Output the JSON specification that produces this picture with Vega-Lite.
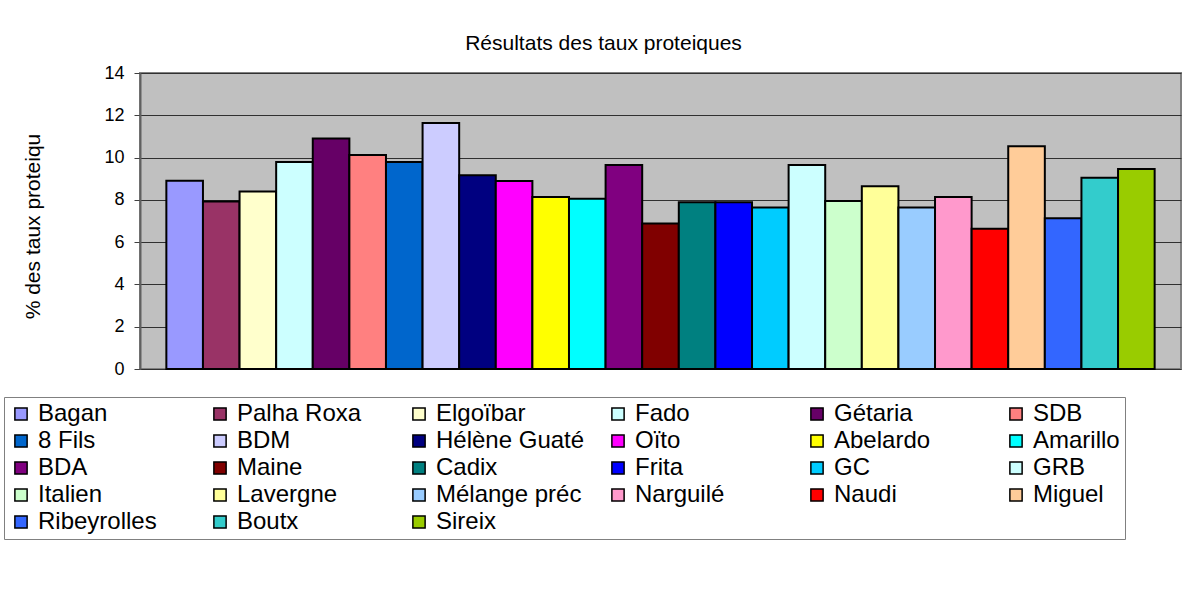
{
  "$schema": "https://vega.github.io/schema/vega-lite/v6.json",
  "autosize": {"type": "none"},
  "width": 1041,
  "height": 296,
  "padding": {"left": 140, "top": 73, "right": 7, "bottom": 224},
  "background": "white",
  "title": {
    "text": "Résultats des taux proteiques",
    "fontSize": 21,
    "font": "Liberation Sans",
    "fontWeight": "normal",
    "color": "black",
    "anchor": "middle",
    "dx": -57,
    "dy": 29,
    "offset": 22,
    "baseline": "alphabetic"
  },
  "data": {
    "values": [
      {"variete": "Bagan", "taux": 8.9},
      {"variete": "Palha Roxa", "taux": 7.92},
      {"variete": "Elgoïbar", "taux": 8.39},
      {"variete": "Fado", "taux": 9.79},
      {"variete": "Gétaria", "taux": 10.9},
      {"variete": "SDB", "taux": 10.12},
      {"variete": "8 Fils", "taux": 9.79},
      {"variete": "BDM", "taux": 11.63},
      {"variete": "Hélène Guaté", "taux": 9.16},
      {"variete": "Oïto", "taux": 8.89},
      {"variete": "Abelardo", "taux": 8.14},
      {"variete": "Amarillo", "taux": 8.05},
      {"variete": "BDA", "taux": 9.65},
      {"variete": "Maine", "taux": 6.88},
      {"variete": "Cadix", "taux": 7.89},
      {"variete": "Frita", "taux": 7.89},
      {"variete": "GC", "taux": 7.64},
      {"variete": "GRB", "taux": 9.65},
      {"variete": "Italien", "taux": 7.95},
      {"variete": "Lavergne", "taux": 8.64},
      {"variete": "Mélange préc", "taux": 7.64},
      {"variete": "Narguilé", "taux": 8.14},
      {"variete": "Naudi", "taux": 6.63},
      {"variete": "Miguel", "taux": 10.54},
      {"variete": "Ribeyrolles", "taux": 7.13},
      {"variete": "Boutx", "taux": 9.05},
      {"variete": "Sireix", "taux": 9.46}
    ]
  },
  "mark": {"type": "bar", "stroke": "black", "strokeWidth": 2},
  "encoding": {
    "x": {
      "field": "variete",
      "type": "nominal",
      "sort": null,
      "axis": null,
      "scale": {"paddingInner": 0, "paddingOuter": 0.72}
    },
    "y": {
      "field": "taux",
      "type": "quantitative",
      "scale": {"domain": [0, 14], "nice": false},
      "axis": {
        "title": "% des taux proteiqu",
        "titleFont": "Liberation Sans",
        "titleFontSize": 21,
        "titleFontWeight": "normal",
        "titleColor": "black",
        "titlePadding": 60,
        "titleY": 153,
        "values": [0, 2, 4, 6, 8, 10, 12, 14],
        "labelFont": "Liberation Sans",
        "labelFontSize": 18,
        "labelColor": "black",
        "labelPadding": 10,
        "tickSize": 6,
        "tickColor": "#404040",
        "domainColor": "#606060",
        "domainWidth": 2,
        "grid": true,
        "gridColor": "#303030",
        "gridWidth": 1
      }
    },
    "color": {
      "field": "variete",
      "type": "nominal",
      "sort": null,
      "scale": {
        "domain": ["Bagan", "Palha Roxa", "Elgoïbar", "Fado", "Gétaria", "SDB", "8 Fils", "BDM", "Hélène Guaté", "Oïto", "Abelardo", "Amarillo", "BDA", "Maine", "Cadix", "Frita", "GC", "GRB", "Italien", "Lavergne", "Mélange préc", "Narguilé", "Naudi", "Miguel", "Ribeyrolles", "Boutx", "Sireix"],
        "range": ["#9999FF", "#993366", "#FFFFCC", "#CCFFFF", "#660066", "#FF8080", "#0066CC", "#CCCCFF", "#000080", "#FF00FF", "#FFFF00", "#00FFFF", "#800080", "#800000", "#008080", "#0000FF", "#00CCFF", "#CCFFFF", "#CCFFCC", "#FFFF99", "#99CCFF", "#FF99CC", "#FF0000", "#FFCC99", "#3366FF", "#33CCCC", "#99CC00"]
      },
      "legend": {
        "title": null,
        "orient": "none",
        "legendX": -136,
        "legendY": 324,
        "direction": "horizontal",
        "columns": 6,
        "gridAlign": "all",
        "columnPadding": 21,
        "rowPadding": 3,
        "padding": 5,
        "strokeColor": "#808080",
        "symbolType": "square",
        "symbolSize": 150,
        "symbolStrokeColor": "black",
        "symbolStrokeWidth": 1.5,
        "symbolOpacity": 1,
        "labelFont": "Liberation Sans",
        "labelFontSize": 24,
        "labelColor": "black",
        "labelOffset": 5,
        "labelLimit": 300
      }
    }
  },
  "config": {
    "font": "Liberation Sans",
    "view": {"fill": "#C0C0C0", "stroke": "#808080", "strokeWidth": 2}
  }
}
